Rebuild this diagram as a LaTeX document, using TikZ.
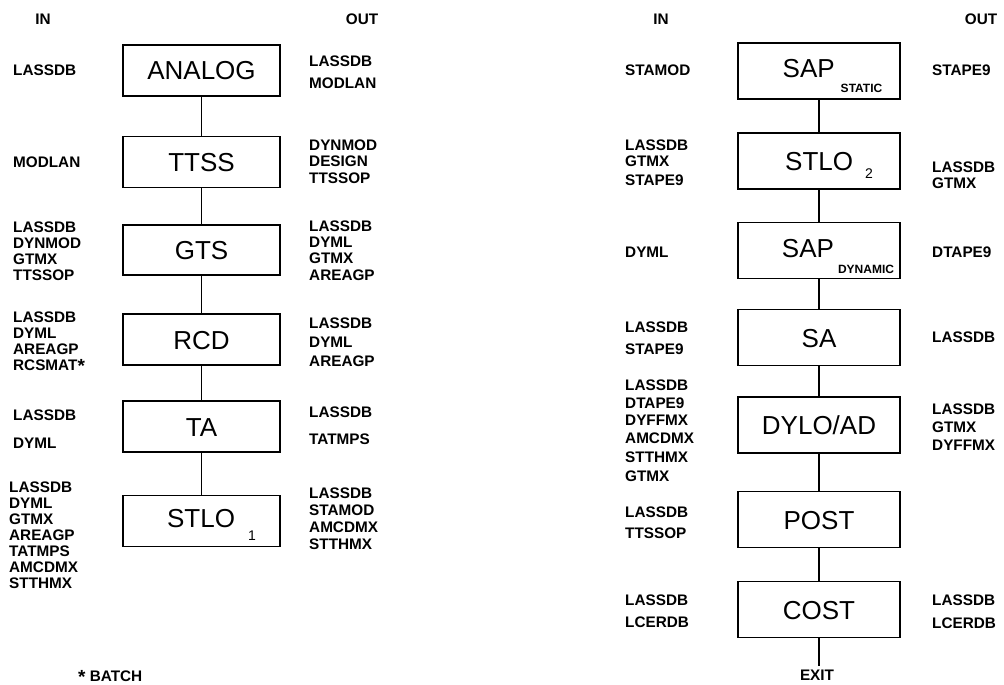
\documentclass[tikz,border=0pt]{standalone}
\usepackage{fontspec}
\setmainfont{Liberation Sans}
\newcommand\bstar{\raisebox{-1.5pt}{\fontsize{19}{19}\selectfont *}}
\newcommand\subdig{\fontsize{14}{14}\selectfont}
\newcommand\subword{\bfseries\fontsize{12}{12}\selectfont}
\begin{document}
\begin{tikzpicture}[x=1pt,y=-1pt,
  boxL/.style={draw, line width=1.1pt, minimum width=157pt, minimum height=51pt, inner sep=0pt,
    font=\fontsize{26}{26}\selectfont, text height=19pt, text depth=0pt},
  boxR/.style={boxL, minimum width=162pt, minimum height=56pt},
  lbl/.style={anchor=west, inner sep=0pt, font=\bfseries\fontsize{15.3}{16}\selectfont,
    text height=11pt, text depth=0pt},
  hdr/.style={lbl, anchor=center},
  link/.style={line width=1.1pt}]
\useasboundingbox (0,0) rectangle (1004,685);

% headers
\node[hdr] (hinL) at (43,19) {IN};
\node[hdr] (houtL) at (362,19) {OUT};
\node[hdr] (hinR) at (661,19) {IN};
\node[hdr] (houtR) at (981,19) {OUT};

% left column boxes
\node[boxL] (analog) at (201.5,70.5) {ANALOG};
\node[boxL] (ttss) at (201.5,162) {TTSS};
\node[boxL, minimum height=50pt] (gts) at (201.5,250) {GTS};
\node[boxL] (rcd) at (201.5,339.5) {RCD};
\node[boxL] (ta) at (201.5,426.5) {TA};
\node[boxL, text depth=6pt] (stloA) at (201.5,521) {\hspace*{20pt}STLO\hspace{13pt}\raisebox{-13pt}{\subdig 1}};

\draw[link] (analog) -- (ttss);
\draw[link] (ttss) -- (gts);
\draw[link] (gts) -- (rcd);
\draw[link] (rcd) -- (ta);
\draw[link] (ta) -- (stloA);

% right column boxes
\node[boxR, text depth=6pt] (sapS) at (819,71) {\hspace*{27pt}SAP\hspace{6pt}\raisebox{-15pt}{\subword STATIC}};
\node[boxR] (stloB) at (819,161) {\hspace*{20pt}STLO\hspace{12pt}\raisebox{-8pt}{\subdig 2}};
\node[boxR, text depth=6pt] (sapD) at (819,250.5) {\hspace*{38pt}SAP\hspace{4pt}\raisebox{-16pt}{\subword DYNAMIC}};
\node[boxR] (sa) at (819,337.5) {SA};
\node[boxR] (dylo) at (819,425) {DYLO/AD};
\node[boxR] (post) at (819,519.5) {POST};
\node[boxR] (cost) at (819,609.5) {COST};
\node[hdr, inner sep=3pt] (exit) at (817,675) {EXIT};

\draw[link] (sapS) -- (stloB);
\draw[link] (stloB) -- (sapD);
\draw[link] (sapD) -- (sa);
\draw[link] (sa) -- (dylo);
\draw[link] (dylo) -- (post);
\draw[link] (post) -- (cost);
\draw[link] (cost) -- (cost |- exit.north);

% left inputs
\foreach \t/\y in {LASSDB/70, MODLAN/162,
  LASSDB/227, DYNMOD/243, GTMX/259, TTSSOP/275,
  LASSDB/317, DYML/333, AREAGP/349, RCSMAT\bstar/365,
  LASSDB/415, DYML/443}
  \node[lbl] (li\y) at (13,\y) {\t};
\foreach \t/\y in {LASSDB/487, DYML/503, GTMX/519, AREAGP/535, TATMPS/551, AMCDMX/567, STTHMX/583}
  \node[lbl] (li\y) at (9,\y) {\t};

% left outputs
\foreach \t/\y in {LASSDB/61, MODLAN/83,
  DYNMOD/145, DESIGN/161, TTSSOP/178,
  LASSDB/226, DYML/242, GTMX/258, AREAGP/275,
  LASSDB/323, DYML/342, AREAGP/361,
  LASSDB/412, TATMPS/439,
  LASSDB/493, STAMOD/510, AMCDMX/527, STTHMX/544}
  \node[lbl] (lo\y) at (309,\y) {\t};

% right inputs
\foreach \t/\y in {STAMOD/70,
  LASSDB/145, GTMX/161, STAPE9/180,
  DYML/252,
  LASSDB/327, STAPE9/349,
  LASSDB/385, DTAPE9/403, DYFFMX/420, AMCDMX/438, STTHMX/457, GTMX/476,
  LASSDB/512, TTSSOP/533,
  LASSDB/600, LCERDB/622}
  \node[lbl] (ri\y) at (625,\y) {\t};

% right outputs
\foreach \t/\y in {STAPE9/70,
  LASSDB/167, GTMX/183,
  DTAPE9/252,
  LASSDB/337,
  LASSDB/409, GTMX/427, DYFFMX/445,
  LASSDB/600, LCERDB/623}
  \node[lbl] (ro\y) at (932,\y) {\t};

% footnote
\node[lbl] (batch) at (78,676) {\bstar\ BATCH};
\end{tikzpicture}
\end{document}
